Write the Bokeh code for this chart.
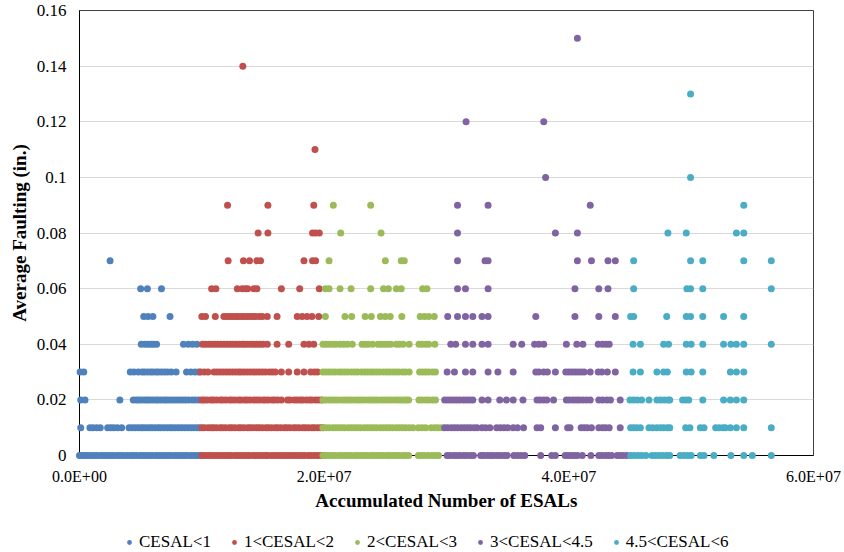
from bokeh.plotting import figure
from bokeh.layouts import column
from bokeh.models import (ColumnDataSource, Range1d, FixedTicker, NumeralTickFormatter,
                          Legend, LegendItem)
from bokeh.embed import file_html
from bokeh.resources import INLINE

# Average faulting (in.) -> accumulated ESALs (millions) of the sections at that faulting level
cesal_below_1 = {
    0.00: [0.0, 0.2, 0.45, 0.7, 0.95, 1.2, 1.45, 1.75, 2.0, 2.25, 2.5, 2.75, 3.05, 3.3, 3.55,
           3.85, 4.15, 4.4, 4.65, 4.95, 5.2, 5.45, 5.7, 5.95, 6.25, 6.5, 6.75, 7.0, 7.25, 7.5,
           7.8, 8.05, 8.3, 8.55, 8.8, 9.1, 9.35, 9.6, 9.85],
    0.01: [0.1, 0.85, 1.1, 1.4, 1.7, 2.3, 2.55, 2.8, 3.1, 3.45, 4.05, 4.3, 4.55, 4.8, 5.05,
           5.25, 5.5, 5.75, 5.95, 6.2, 6.45, 6.65, 6.9, 7.15, 7.4, 7.6, 7.85, 8.1, 8.35, 8.6,
           8.85, 9.1, 9.35, 9.6, 9.8],
    0.02: [0.1, 0.45, 3.3, 4.4, 4.65, 4.85, 5.1, 5.35, 5.55, 5.75, 6.0, 6.25, 6.45, 6.7, 6.95,
           7.15, 7.4, 7.65, 7.9, 8.15, 8.4, 8.65, 8.9, 9.2, 9.45, 9.75],
    0.03: [0.05, 0.35, 4.15, 4.45, 4.8, 5.1, 5.3, 5.55, 5.8, 6.0, 6.25, 6.45, 6.7, 6.95, 7.2,
           7.5, 7.9, 8.75, 9.1, 9.45, 9.75],
    0.04: [5.05, 5.35, 5.6, 5.85, 6.05, 6.3, 8.5, 8.9, 9.25, 9.6],
    0.05: [5.25, 5.6, 6.0, 7.4],
    0.06: [5.0, 5.55, 6.7],
    0.07: [2.5],
}

cesal_1_to_2 = {
    0.00: [10.0, 10.25, 10.5, 10.7, 10.95, 11.2, 11.45, 11.7, 11.95, 12.2, 12.4, 12.7, 12.95,
           13.2, 13.45, 13.7, 13.9, 14.2, 14.45, 14.7, 14.95, 15.2, 15.4, 15.7, 15.95, 16.2,
           16.45, 16.7, 16.95, 17.2, 17.45, 17.7, 17.95, 18.2, 18.4, 18.7, 18.95, 19.2, 19.45,
           19.7, 19.9],
    0.01: [10.0, 10.2, 10.5, 10.75, 10.95, 11.2, 11.5, 11.7, 11.95, 12.25, 12.45, 12.7, 13.0,
           13.2, 13.45, 13.75, 13.95, 14.2, 14.5, 14.7, 14.95, 15.25, 15.45, 15.7, 16.0, 16.2,
           16.45, 16.75, 16.95, 17.2, 17.5, 17.7, 17.95, 18.25, 18.45, 18.7, 19.0, 19.2, 19.45,
           19.7, 19.9],
    0.02: [10.0, 10.2, 10.45, 10.75, 10.95, 11.2, 11.5, 11.7, 11.95, 12.25, 12.45, 12.7, 13.0,
           13.2, 13.5, 13.7, 13.95, 14.25, 14.45, 14.7, 15.0, 15.2, 15.45, 15.75, 15.95, 16.2,
           16.5, 17.0, 17.2, 17.55, 17.8, 18.05, 18.25, 18.55, 18.8, 19.0, 19.3, 19.55, 19.8],
    0.03: [9.9, 10.2, 10.5, 11.0, 11.25, 11.5, 11.75, 12.0, 12.25, 12.5, 12.75, 13.0, 13.2,
           13.45, 13.7, 13.95, 14.2, 14.45, 14.7, 14.95, 15.2, 15.5, 15.75, 16.0, 16.5, 17.1,
           17.8, 18.35, 18.9, 19.2, 19.45],
    0.04: [10.05, 10.3, 10.55, 10.8, 11.05, 11.3, 11.55, 11.8, 12.05, 12.3, 12.55, 12.8,
           13.05, 13.3, 13.5, 13.75, 14.0, 14.25, 14.5, 14.75, 15.0, 15.35, 16.15, 17.1, 18.35,
           18.75, 19.15],
    0.05: [10.0, 10.3, 11.1, 11.8, 12.05, 12.3, 12.55, 12.8, 13.0, 13.25, 13.45, 13.7, 13.95,
           14.2, 14.4, 14.7, 14.95, 15.35, 16.15, 17.8, 18.2, 18.6, 19.0, 19.55],
    0.06: [10.8, 11.15, 12.9, 13.3, 13.55, 13.75, 14.25, 14.5, 16.5, 18.0, 19.6],
    0.07: [12.15, 13.4, 13.9, 14.5, 14.8, 18.35, 19.05, 19.3],
    0.08: [14.6, 15.4, 19.05, 19.3, 19.6],
    0.09: [12.1, 15.4, 19.15],
    0.11: [19.25],
    0.14: [13.35],
}

cesal_2_to_3 = {
    0.00: [19.9, 20.15, 20.4, 20.65, 20.9, 21.2, 21.45, 21.7, 21.95, 22.2, 22.5, 22.75, 23.0,
           23.25, 23.5, 23.8, 24.05, 24.3, 24.55, 24.8, 25.1, 25.35, 25.6, 25.85, 26.1, 26.4,
           26.65, 26.9, 27.7, 27.95, 28.2, 28.5, 28.8, 29.1, 29.35],
    0.01: [19.9, 20.15, 20.4, 20.7, 20.95, 21.2, 21.45, 21.7, 22.0, 22.25, 22.5, 22.75, 23.0,
           23.3, 23.55, 23.8, 24.05, 24.3, 24.6, 24.85, 25.1, 25.35, 25.6, 25.9, 26.15, 26.4,
           26.65, 26.95, 27.25, 27.7, 28.0, 28.3, 28.75, 29.05, 29.3, 29.6],
    0.02: [19.9, 20.15, 20.45, 20.7, 20.95, 21.2, 21.5, 21.75, 22.0, 22.25, 22.55, 22.8,
           23.05, 23.3, 23.6, 23.85, 24.1, 24.35, 24.65, 24.9, 25.15, 25.4, 25.7, 25.95, 26.2,
           26.45, 26.7, 26.9, 27.75, 28.0, 28.3, 28.55, 28.85, 29.1],
    0.03: [19.9, 20.15, 20.4, 20.65, 20.9, 21.2, 21.45, 21.7, 21.95, 22.25, 22.5, 22.75, 23.05,
           23.3, 23.55, 23.8, 24.05, 24.3, 24.55, 24.85, 25.1, 25.35, 25.6, 25.85, 26.1, 26.4,
           26.65, 26.95, 27.8, 28.05, 28.3, 28.55, 28.85, 29.1],
    0.04: [19.9, 20.15, 20.4, 20.7, 20.95, 21.3, 21.6, 21.9, 22.3, 23.1, 23.35, 23.6, 23.95,
           24.4, 24.65, 24.9, 25.15, 25.45, 25.9, 26.15, 26.45, 26.95, 27.75, 28.0, 28.3, 28.55,
           29.05],
    0.05: [20.1, 21.7, 22.25, 23.35, 23.85, 24.6, 25.0, 25.4, 26.35, 27.85, 28.2, 28.55, 29.0],
    0.06: [20.1, 20.4, 21.3, 22.2, 23.8, 24.85, 25.25, 25.9, 26.3, 28.05, 28.4],
    0.07: [20.4, 25.0, 26.3, 26.55],
    0.08: [21.35, 24.65],
    0.09: [20.75, 23.8],
}

cesal_3_to_4_5 = {
    0.00: [30.05, 30.3, 30.6, 30.85, 31.1, 31.4, 31.65, 31.95, 32.2, 32.8, 33.05, 33.35, 33.6,
           33.85, 34.15, 34.4, 34.7, 34.95, 35.5, 35.8, 36.1, 36.4, 37.7, 38.6, 38.9, 39.7,
           39.95, 40.2, 40.45, 40.7, 41.1, 41.8, 42.45, 42.7, 43.0, 43.25, 43.5, 43.95, 44.2,
           44.45, 44.75],
    0.01: [29.85, 30.1, 30.4, 30.65, 30.9, 31.2, 31.45, 31.7, 31.95, 32.25, 32.5, 32.9, 33.2,
           33.55, 34.1, 34.4, 34.7, 35.0, 35.45, 35.8, 36.3, 37.4, 37.7, 38.9, 39.9, 40.1,
           41.0, 41.25, 41.5, 41.85, 42.45, 42.75, 43.0, 43.3, 44.2],
    0.02: [29.85, 30.1, 30.35, 30.6, 30.85, 31.1, 31.4, 31.65, 31.9, 32.15, 32.9, 33.4, 34.35,
           34.9, 35.45, 36.25, 37.4, 37.65, 37.95, 38.2, 38.75, 39.8, 40.05, 40.35, 40.6,
           40.85, 41.15, 41.45, 41.75, 42.45, 42.75, 43.1, 43.4, 44.2],
    0.03: [30.05, 30.65, 31.55, 32.15, 33.4, 34.2, 35.45, 37.3, 37.55, 37.95, 38.25, 38.9,
           39.75, 40.0, 40.25, 40.5, 40.75, 41.0, 41.25, 41.75, 42.4, 42.7, 43.15, 43.8],
    0.04: [30.35, 30.75, 31.55, 32.15, 32.9, 33.4, 35.45, 36.15, 37.2, 37.55, 37.95, 39.8,
           40.65, 41.15, 42.4, 42.75, 43.05, 43.3],
    0.05: [30.1, 30.9, 31.55, 32.15, 32.9, 33.4, 37.3, 40.5, 42.45, 43.8],
    0.06: [30.9, 31.55, 33.4, 40.5, 42.45, 43.2],
    0.07: [30.9, 33.15, 33.4, 40.7, 41.85, 43.2, 43.8],
    0.08: [30.9, 38.9, 40.7],
    0.09: [30.9, 33.4, 41.75],
    0.10: [38.1],
    0.12: [31.6, 37.95],
    0.15: [40.7],
}

cesal_4_5_to_6 = {
    0.00: [45.05, 45.35, 45.65, 45.95, 46.3, 46.8, 47.1, 47.4, 47.7, 48.0, 48.25, 49.1, 49.4,
           49.7, 50.0, 50.75, 51.05, 51.85, 53.25, 54.3, 55.0, 56.55],
    0.01: [45.05, 45.3, 45.55, 45.85, 46.55, 46.85, 47.2, 47.5, 47.75, 48.05, 48.25, 49.55,
           49.9, 50.75, 51.05, 52.0, 52.3, 52.6, 52.8, 53.2, 53.7, 54.3, 56.55],
    0.02: [45.0, 45.3, 45.6, 45.95, 46.55, 47.2, 47.5, 47.8, 48.1, 48.25, 49.3, 49.55, 49.8,
           50.95, 52.65, 53.2, 53.7, 54.3],
    0.03: [45.25, 45.85, 47.2, 47.75, 48.05, 49.6, 50.0, 50.95, 53.2, 53.7, 54.3],
    0.04: [45.25, 45.85, 47.75, 48.15, 49.6, 50.0, 50.95, 52.65, 53.25, 53.7, 54.3, 56.55],
    0.05: [45.05, 45.3, 48.0, 49.6, 49.95, 50.95, 52.65, 54.3],
    0.06: [45.3, 49.65, 49.95, 50.95, 56.55],
    0.07: [45.3, 49.95, 50.95, 54.3, 56.55],
    0.08: [48.1, 49.6, 53.7, 54.3],
    0.09: [54.3],
    0.10: [49.95],
    0.13: [49.95],
}

series_names = ["CESAL<1", "1<CESAL<2", "2<CESAL<3", "3<CESAL<4.5", "4.5<CESAL<6"]
series_data = [cesal_below_1, cesal_1_to_2, cesal_2_to_3, cesal_3_to_4_5, cesal_4_5_to_6]
series_colors = ["#4F81BD", "#C0504D", "#9BBB59", "#8064A2", "#4BACC6"]

faulting_ticks = [0, 0.02, 0.04, 0.06, 0.08, 0.10, 0.12, 0.14, 0.16]
esal_ticks = [0, 2e7, 4e7, 6e7]
esal_tick_labels = ["0.0E+00", "2.0E+07", "4.0E+07", "6.0E+07"]

SERIF = "Liberation Serif"
KEY_HEIGHT = 30

p = figure(width=844, height=552 - KEY_HEIGHT, output_backend="svg", toolbar_location=None,
           x_range=Range1d(0, 6e7), y_range=Range1d(0, 0.16),
           min_border_left=79, min_border_right=31, min_border_top=10,
           min_border_bottom=552 - KEY_HEIGHT - 455)
p.background_fill_color = "white"
p.border_fill_color = "white"
p.outline_line_color = "#404040"
p.outline_line_width = 1

# strip below the chart that only carries the series key; its ranges lie away from
# the data so the swatch renderers show nothing but their legend glyphs
key = figure(width=844, height=KEY_HEIGHT, output_backend="svg", toolbar_location=None,
             x_axis_type=None, y_axis_type=None, x_range=Range1d(-2, -1),
             y_range=Range1d(-2, -1), min_border=0)
key.outline_line_color = None
key.grid.visible = False
key.background_fill_color = "white"
key.border_fill_color = "white"

legend_items = []
for name, data, color in zip(series_names, series_data, series_colors):
    xs, ys = [], []
    for level, esals in data.items():
        xs.extend(e * 1e6 for e in esals)
        ys.extend([level] * len(esals))
    src = ColumnDataSource(dict(esals=xs, faulting=ys))
    p.scatter("esals", "faulting", source=src, size=7, fill_color=color,
              line_color=None, level="overlay")
    swatch = key.scatter("esals", "faulting", source=src, size=7, fill_color=color,
                         line_color=None)
    legend_items.append(LegendItem(label=name, renderers=[swatch]))

# grid: horizontal lines only
p.xgrid.visible = False
p.ygrid.grid_line_color = "#d9d9d9"
p.ygrid.grid_line_width = 1

# y axis
p.yaxis.ticker = FixedTicker(ticks=faulting_ticks)
p.yaxis.formatter = NumeralTickFormatter(format="0.[00]")
p.yaxis.axis_label = "Average Faulting (in.)"
p.yaxis.major_label_standoff = 13

# x axis
p.xaxis.ticker = FixedTicker(ticks=esal_ticks)
p.xaxis.major_label_overrides = dict(zip(esal_ticks, esal_tick_labels))
p.xaxis.axis_label = "Accumulated Number of ESALs"
p.xaxis.major_label_standoff = 12

for ax in (p.xaxis, p.yaxis):
    ax.axis_line_color = "black"
    ax.axis_line_width = 1
    ax.major_tick_line_color = None
    ax.minor_tick_line_color = None
    ax.major_tick_out = 0
    ax.major_tick_in = 0
    ax.major_label_text_font = SERIF
    ax.major_label_text_color = "black"
    ax.axis_label_text_font = SERIF
    ax.axis_label_text_font_style = "bold"
    ax.axis_label_text_font_size = "19px"
    ax.axis_label_text_color = "black"

p.yaxis.axis_label_standoff = 4
p.xaxis.axis_label_standoff = 2
p.yaxis.major_label_text_font_size = "17px"
p.xaxis.major_label_text_font_size = "16px"

legend = Legend(items=legend_items, orientation="horizontal", location=(44, 0),
                glyph_width=12, glyph_height=12, label_standoff=4, spacing=17,
                padding=0, margin=0, label_height=20,
                label_text_font=SERIF, label_text_font_size="17px",
                label_text_color="black",
                background_fill_alpha=0, border_line_color=None)
key.add_layout(legend, "center")

chart = column(p, key, spacing=0)
open("out.html", "w").write(file_html(chart, INLINE))
